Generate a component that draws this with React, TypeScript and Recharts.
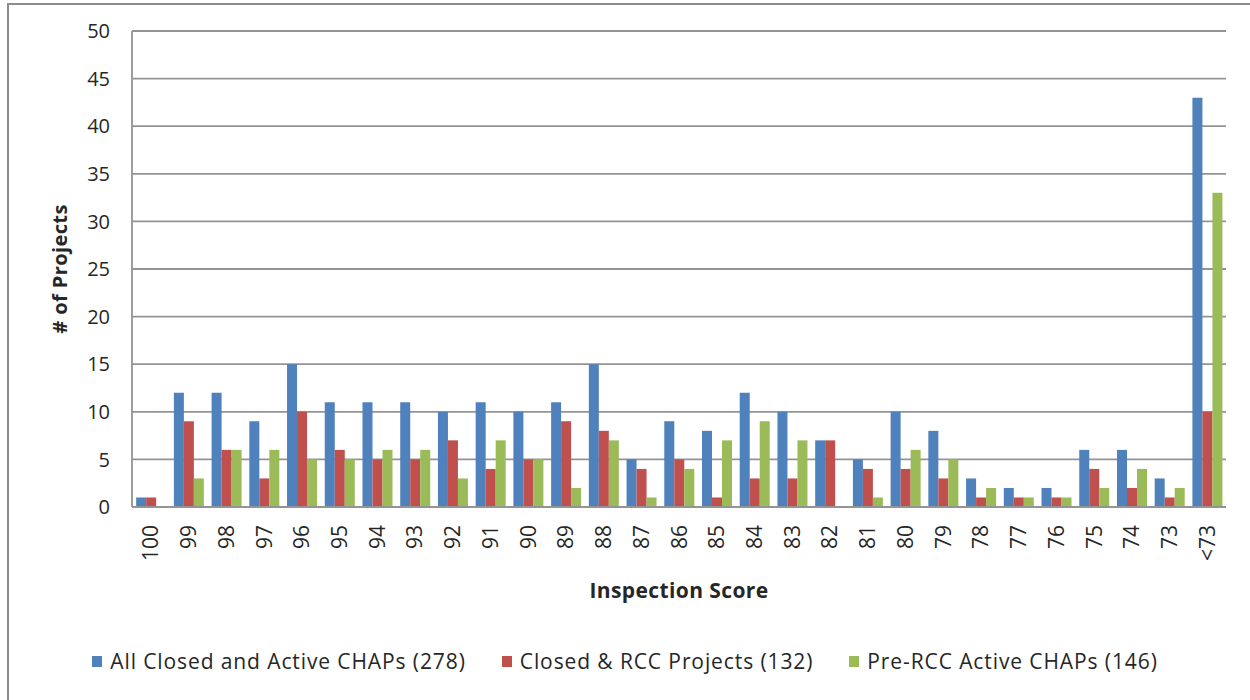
import { BarChart, Bar, XAxis, YAxis, CartesianGrid, Legend, Label } from "recharts";

const scores = ["100", "99", "98", "97", "96", "95", "94", "93", "92", "91", "90", "89", "88", "87", "86", "85", "84", "83", "82", "81", "80", "79", "78", "77", "76", "75", "74", "73", "<73"];
const allClosedActive = [1, 12, 12, 9, 15, 11, 11, 11, 10, 11, 10, 11, 15, 5, 9, 8, 12, 10, 7, 5, 10, 8, 3, 2, 2, 6, 6, 3, 43];
const closedRcc = [1, 9, 6, 3, 10, 6, 5, 5, 7, 4, 5, 9, 8, 4, 5, 1, 3, 3, 7, 4, 4, 3, 1, 1, 1, 4, 2, 1, 10];
const preRccActive = [0, 3, 6, 6, 5, 5, 6, 6, 3, 7, 5, 2, 7, 1, 4, 7, 9, 7, 0, 1, 6, 5, 2, 1, 1, 2, 4, 2, 33];
const yTicks = [0, 5, 10, 15, 20, 25, 30, 35, 40, 45, 50];

const FONT = "'Open Sans', 'DejaVu Sans', sans-serif";
const TEXT = "#262626";

const data = scores.map((s, i) => ({
  score: s,
  all: allClosedActive[i],
  closed: closedRcc[i],
  pre: preRccActive[i],
}));

function XTick({ x, y, payload }: any) {
  return (
    <g transform={`translate(${x},${y})`}>
      <text transform="rotate(-90)" x={-16} y={0} dy="0.36em" textAnchor="end" fill={TEXT} fontSize={21} fontFamily={FONT}>
        {payload.value}
      </text>
    </g>
  );
}

function LegendBox({ payload }: any) {
  return (
    <div style={{ display: "flex", justifyContent: "center", gap: 36, fontFamily: FONT, fontSize: 21, letterSpacing: 0.9, color: TEXT }}>
      {(payload || []).map((p: any) => (
        <div key={p.value} style={{ display: "flex", alignItems: "center" }}>
          <span style={{ width: 10, height: 11, background: p.color, marginRight: 8, display: "inline-block" }} />
          <span>{p.value}</span>
        </div>
      ))}
    </div>
  );
}

export default function App() {
  return (
    <div style={{ position: "absolute", left: 0, top: 0, width: 1250, height: 700, background: "#fff", overflow: "hidden" }}>
      <div style={{ position: "absolute", left: 7, top: 3, width: 1260, height: 710, borderLeft: "2px solid #8c8c8c", borderTop: "2px solid #8c8c8c" }} />
      <BarChart
        width={1250}
        height={700}
        data={data}
        margin={{ top: 31, right: 24, left: 0, bottom: 0 }}
        barCategoryGap="11%"
        barGap={0}
      >
        <CartesianGrid vertical={false} stroke="#949494" strokeWidth={1.8} />
        <XAxis
          dataKey="score"
          height={193}
          interval={0}
          tickLine={false}
          tickSize={0}
          stroke="#949494"
          strokeWidth={1.8}
          tick={<XTick />}
        >
          <Label
            value="Inspection Score"
            position="insideTop"
            offset={76}
            fill={TEXT}
            fontSize={21}
            fontWeight="bold"
            fontFamily={FONT}
            letterSpacing={0.4}
          />
        </XAxis>
        <YAxis
          width={132}
          domain={[0, 50]}
          ticks={yTicks}
          interval={0}
          tickLine={false}
          tickSize={0}
          tickMargin={22}
          stroke="#949494"
          strokeWidth={1.8}
          tick={{ fill: TEXT, fontSize: 20, fontFamily: FONT }}
        >
          <Label
            value="# of Projects"
            position="center"
            angle={-90}
            dx={-6}
            dy={0}
            fill={TEXT}
            fontSize={20}
            fontWeight="bold"
            fontFamily={FONT}
            letterSpacing={0.4}
          />
        </YAxis>
        <Legend
          layout="horizontal"
          verticalAlign="middle"
          align="center"
          content={<LegendBox />}
          wrapperStyle={{ top: 647, left: 0, width: 1250 }}
        />
        <Bar dataKey="all" name="All Closed and Active CHAPs (278)" fill="#4f81bd" isAnimationActive={false} />
        <Bar dataKey="closed" name="Closed & RCC Projects (132)" fill="#c0504d" isAnimationActive={false} />
        <Bar dataKey="pre" name="Pre-RCC Active CHAPs (146)" fill="#9bbb59" isAnimationActive={false} />
      </BarChart>
    </div>
  );
}
